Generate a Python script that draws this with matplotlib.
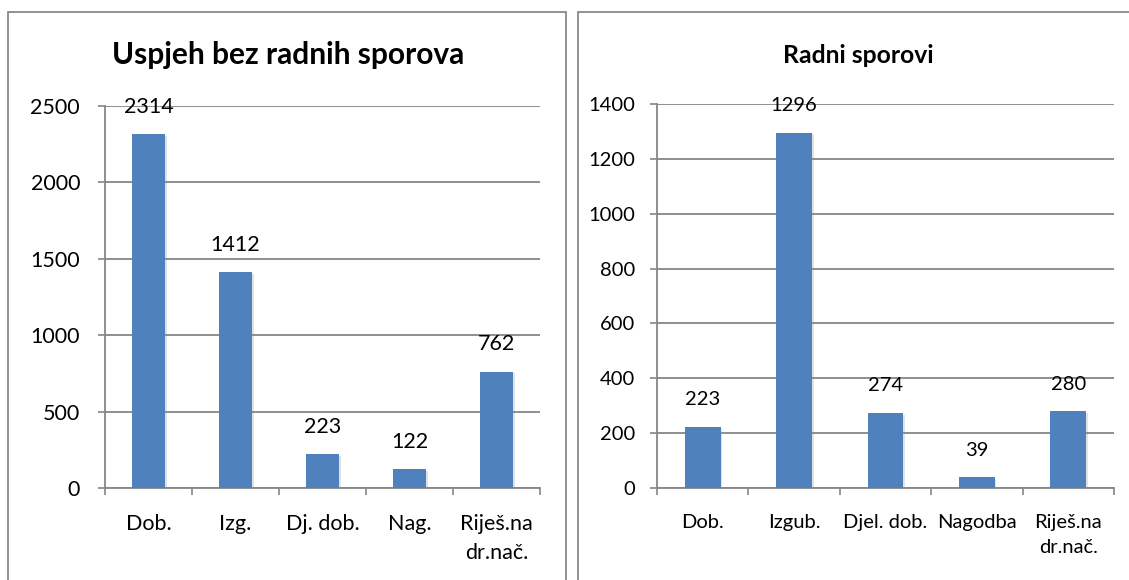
import matplotlib
matplotlib.use("Agg")
import matplotlib.pyplot as plt
import matplotlib.patheffects as pe
from matplotlib.patches import Rectangle
from matplotlib.ticker import FixedLocator, MultipleLocator

plt.rcParams["font.family"] = ["Lato", "DejaVu Sans"]

BAR_COLOR = "#4f81bd"
GRID_COLOR = "#868686"

left_title = "Uspjeh bez radnih sporova"
left_labels = ["Dob.", "Izg.", "Dj. dob.", "Nag.", "Riješ.na\ndr.nač."]
left_values = [2314, 1412, 223, 122, 762]

right_title = "Radni sporovi"
right_labels = ["Dob.", "Izgub.", "Djel. dob.", "Nagodba", "Riješ.na\ndr.nač."]
right_values = [223, 1296, 274, 39, 280]


def draw_panel(ax, title, labels, values, ymax, ystep, fs, title_fs, title_x, ypad):
    xs = range(len(values))
    bars = ax.bar(xs, values, width=0.39, color=BAR_COLOR, zorder=3)
    for b in bars:
        b.set_path_effects([
            pe.SimplePatchShadow(offset=(1.2, -1.2), shadow_rgbFace="#8c8c8c", alpha=0.25),
            pe.Normal(),
        ])
    for x, v in zip(xs, values):
        ax.annotate(str(v), (x, v), xytext=(0, 19.5), textcoords="offset points",
                    ha="center", va="center", fontsize=fs, zorder=4)

    ax.set_xlim(-0.5, len(values) - 0.5)
    ax.set_ylim(0, ymax)
    ax.yaxis.set_major_locator(MultipleLocator(ystep))
    ax.grid(axis="y", color=GRID_COLOR, linewidth=1.3, zorder=0)
    ax.set_axisbelow(True)

    # category boundaries carry the tick marks, the names sit between them
    ax.xaxis.set_major_locator(FixedLocator([i - 0.5 for i in range(len(values) + 1)]))
    ax.xaxis.set_minor_locator(FixedLocator(list(xs)))
    ax.set_xticklabels([], minor=False)
    ax.set_xticklabels(labels, minor=True, fontsize=fs, linespacing=1.55)
    ax.tick_params(axis="x", which="major", length=5, width=1.2, color=GRID_COLOR, direction="out")
    ax.tick_params(axis="x", which="minor", length=0, pad=19)
    ax.tick_params(axis="y", length=5, width=1.2, color=GRID_COLOR, labelsize=fs, pad=ypad)

    for side in ("top", "right"):
        ax.spines[side].set_visible(False)
    for side in ("left", "bottom"):
        ax.spines[side].set_color(GRID_COLOR)
        ax.spines[side].set_linewidth(1.3)

    ax.figure.text(title_x, 0.905, title, ha="center", va="center",
                   fontsize=title_fs, fontweight="bold")


fig = plt.figure(figsize=(11.29, 5.8), dpi=100)

# panel frames
for x0, w in ((8, 558), (578, 560)):
    fig.add_artist(Rectangle((x0 / 1129, -0.05), w / 1129, (580 - 12) / 580 + 0.05,
                             transform=fig.transFigure, fill=False,
                             edgecolor="#7f7f7f", linewidth=1.2))

ax1 = fig.add_axes([105 / 1129, 92 / 580, 435 / 1129, 382 / 580])
draw_panel(ax1, left_title, left_labels, left_values, 2500, 500, 15.5, 21.5, 288 / 1129, 13)

ax2 = fig.add_axes([657 / 1129, 92 / 580, 457 / 1129, 384 / 580])
draw_panel(ax2, right_title, right_labels, right_values, 1400, 200, 14.5, 17.8, 858 / 1129, 11)

fig.savefig("out.png", dpi=100)
